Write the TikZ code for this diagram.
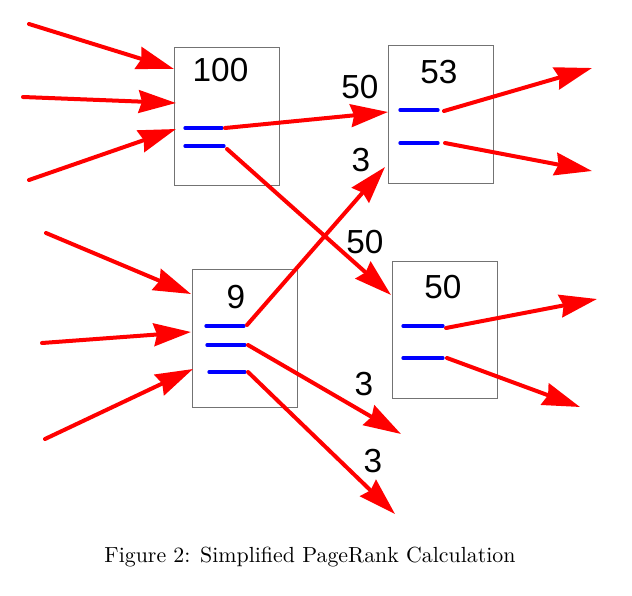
\documentclass[tikz,border=0pt]{standalone}
\usepackage{fontspec}
\newfontfamily\numfont{Liberation Sans}
\usetikzlibrary{arrows.meta}
\begin{document}
\begin{tikzpicture}[x=0.75pt,y=-0.75pt,
  page/.style={draw=black!55, line width=0.6pt, minimum width=78.75pt, minimum height=103.5pt, inner sep=0pt},
  num/.style={font=\numfont\fontsize{25}{30}\selectfont, inner sep=0pt},
  link/.style={draw=blue, line width=2.5pt, line cap=round},
  flow/.style={draw=red, line width=3pt, line cap=round, -{Stealth[length=28pt,width=17pt,inset=2.5pt]}},
  captext/.style={font=\fontsize{10}{12}\selectfont, inner sep=0pt}]
\useasboundingbox (0,0) rectangle (632,596);
% boxes
\node[page] (A) at (226.5,116) {};
\node[page, minimum height=103pt] (B) at (440.5,114.3) {};
\node[page] (C) at (244.5,338) {};
\node[page, minimum height=102.75pt] (D) at (444.5,329.5) {};
% box titles
\node[num] (At) at (220.5,70.5) {100};
\node[num] (Bt) at (439,72) {53};
\node[num] (Ct) at (236,297) {9};
\node[num] (Dt) at (443,287) {50};
% blue link lines
\coordinate (a1l) at (185,128); \coordinate (a1r) at (222,128);
\coordinate (a2l) at (185,146); \coordinate (a2r) at (224,146);
\coordinate (b1l) at (400,110); \coordinate (b1r) at (438,110);
\coordinate (b2l) at (400,143); \coordinate (b2r) at (438,143);
\coordinate (c1l) at (206,326); \coordinate (c1r) at (244,326);
\coordinate (c2l) at (207,345); \coordinate (c2r) at (245,345);
\coordinate (c3l) at (209,372); \coordinate (c3r) at (245,372);
\coordinate (d1l) at (403,326); \coordinate (d1r) at (443,326);
\coordinate (d2l) at (403,358); \coordinate (d2r) at (443,358);
\foreach \p in {a1,a2,b1,b2,c1,c2,c3,d1,d2}{\draw[link] (\p l) -- (\p r);}
% arrow start / end points
\coordinate (ia1) at (29,24);  \coordinate (ta1) at (174,69);
\coordinate (ia2) at (23,97);  \coordinate (ta2) at (176,103);
\coordinate (ia3) at (29,180); \coordinate (ta3) at (176,129);
\coordinate (sa1) at (225,128); \coordinate (tb1) at (388,112);
\coordinate (sa2) at (227,149); \coordinate (td1) at (391,295);
\coordinate (sb1) at (444,111); \coordinate (ob1) at (592,68);
\coordinate (sb2) at (445,143); \coordinate (ob2) at (592,171);
\coordinate (ic1) at (46,233);  \coordinate (tc1) at (191,294);
\coordinate (ic2) at (42,343);  \coordinate (tc2) at (191,332);
\coordinate (ic3) at (45,439);  \coordinate (tc3) at (193,369);
\coordinate (sc1) at (247,325); \coordinate (tb2) at (385,167);
\coordinate (sc2) at (248,345); \coordinate (oc2) at (401,434);
\coordinate (sc3) at (248,372); \coordinate (oc3) at (395,514);
\coordinate (sd1) at (446,328); \coordinate (od1) at (597,299);
\coordinate (sd2) at (447,358); \coordinate (od2) at (580,407);
% arrows
\draw[flow] (ia1) -- (ta1);
\draw[flow] (ia2) -- (ta2);
\draw[flow] (ia3) -- (ta3);
\draw[flow] (sa1) -- (tb1);
\draw[flow] (sa2) -- (td1);
\draw[flow] (sb1) -- (ob1);
\draw[flow] (sb2) -- (ob2);
\draw[flow] (ic1) -- (tc1);
\draw[flow] (ic2) -- (tc2);
\draw[flow] (ic3) -- (tc3);
\draw[flow] (sc1) -- (tb2);
\draw[flow] (sc2) -- (oc2);
\draw[flow] (sc3) -- (oc3);
\draw[flow] (sd1) -- (od1);
\draw[flow] (sd2) -- (od2);
% value labels
\node[num] (l1) at (360,87) {50};
\node[num] (l2) at (365,242) {50};
\node[num] (l3) at (361,160) {3};
\node[num] (l4) at (364,384) {3};
\node[num] (l5) at (373,461) {3};
% caption
\node[captext] (caption) at (310,557) {\scalebox{1.64}{Figure 2: Simplified PageRank Calculation}};
\end{tikzpicture}
\end{document}
